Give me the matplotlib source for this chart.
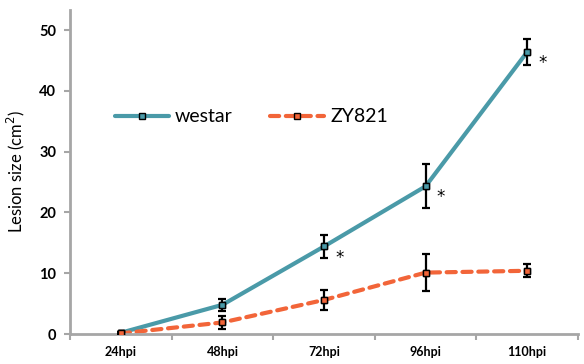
import matplotlib
matplotlib.use("Agg")
import matplotlib.pyplot as plt
import numpy as np

# Lesion size over time for two cultivars
categories = ["24hpi", "48hpi", "72hpi", "96hpi", "110hpi"]
westar = [0.2, 4.8, 14.4, 24.3, 46.4]
westar_err = [0.2, 1.0, 1.9, 3.6, 2.1]
zy821 = [0.1, 1.9, 5.6, 10.1, 10.4]
zy821_err = [0.1, 1.0, 1.7, 3.0, 1.1]
significant = [False, False, True, True, True]
yticks = [0, 10, 20, 30, 40, 50]

plt.rcParams['font.family'] = ['Lato', 'DejaVu Sans']

teal = "#4A9AA8"
orange = "#F26539"
grey = "#A6A6A6"

fig = plt.figure(figsize=(5.84, 3.64), dpi=100)
ax = fig.add_axes([70/584, 1-334/364, 508/584, 324/364])

x = np.arange(len(categories))
mk = dict(marker='s', ms=4.2, mec='black', mew=1.0)

ax.plot(x, westar, color=teal, lw=3.0, solid_capstyle='round', zorder=2,
        mfc=teal, label='westar', **mk)
ax.plot(x, zy821, color=orange, lw=3.0, ls=(0, (2.2, 1.6)), dash_capstyle='round', zorder=2,
        mfc=orange, label='ZY821', **mk)
ax.errorbar(x, westar, yerr=westar_err, fmt='none', ecolor='black', elinewidth=1.6,
            capsize=3, capthick=1.6, zorder=3)
ax.errorbar(x, zy821, yerr=zy821_err, fmt='none', ecolor='black', elinewidth=1.6,
            capsize=3, capthick=1.6, zorder=3)
# redraw markers on top of error bars
ax.plot(x, westar, ls='none', mfc=teal, zorder=4, **mk)
ax.plot(x, zy821, ls='none', mfc=orange, zorder=4, **mk)

for xi, yi, s in zip(x, westar, significant):
    if s:
        ax.annotate("*", (xi, yi), xytext=(11, -8), textcoords='offset points',
                    ha='center', va='center', fontsize=12, family='DejaVu Sans')

ax.set_xlim(-0.5, len(categories) - 0.5)
ax.set_ylim(0, 53.3)
ax.set_xticks(x)
ax.set_xticklabels(categories, fontsize=9, fontweight='bold')
ax.set_xticks(np.arange(-0.5, len(categories)), minor=True)
ax.tick_params(axis='x', which='major', length=0, pad=9)
ax.tick_params(axis='x', which='minor', length=4, width=1.5, color=grey, direction='out')
ax.set_yticks(yticks)
ax.set_yticklabels([str(v) for v in yticks], fontsize=10.5, fontweight='bold')
ax.tick_params(axis='y', length=4, width=1.5, color=grey, pad=6)
ax.set_ylabel("Lesion size (cm$^{2}$)", fontsize=12, labelpad=9)

for side in ['top', 'right']:
    ax.spines[side].set_visible(False)
for side in ['left', 'bottom']:
    ax.spines[side].set_color(grey)
    ax.spines[side].set_linewidth(2)

leg = ax.legend(loc='center left', bbox_to_anchor=(0.069, 0.67), ncol=2, frameon=False,
                borderpad=0, fontsize=14, handlelength=2.8, columnspacing=1.9,
                handletextpad=0.3)

fig.savefig("out.png", dpi=100)
